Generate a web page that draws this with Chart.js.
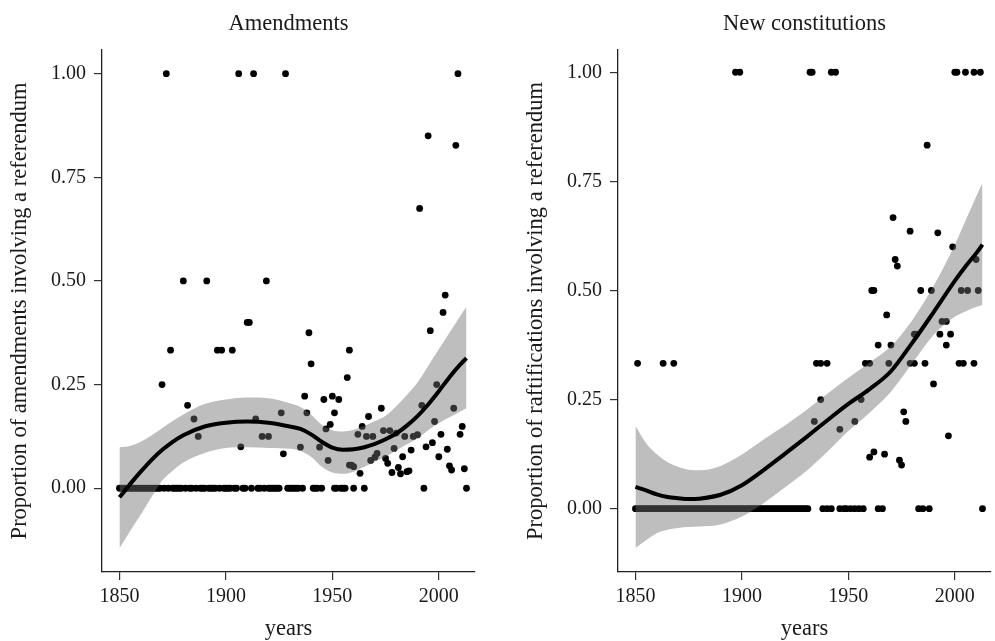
<!DOCTYPE html>
<html>
<head>
<meta charset="utf-8">
<script src="https://cdn.jsdelivr.net/npm/chart.js@4.4.1/dist/chart.umd.min.js"></script>
<style>
  body { margin: 0; background: #fff; overflow: hidden; }
  .panel { position: absolute; top: 0; }
</style>
</head>
<body>
<div class="panel" style="left:0px"><canvas id="amend" width="479" height="641"></canvas></div>
<div class="panel" style="left:516px"><canvas id="newconst" width="479" height="641"></canvas></div>
<script>
// ---- Amendments panel ----
const amendYears = [1870, 1872, 1874, 1880, 1882, 1885, 1887, 1891, 1896, 1898, 1903, 1906, 1907, 1910, 1911,
  1913, 1914, 1917, 1919, 1920, 1926, 1927, 1928,
  1935, 1937, 1938, 1939, 1940, 1944, 1946, 1947, 1948, 1949, 1950, 1951, 1953, 1957, 1958, 1958, 1959, 1960,
  1962, 1963, 1964, 1966, 1967, 1968, 1969, 1970, 1971, 1973, 1974, 1975, 1976, 1977, 1978, 1979, 1980, 1981,
  1982, 1983, 1984, 1985, 1986, 1987, 1988, 1990, 1991, 1992, 1994, 1995, 1996, 1997, 1998, 1999, 2000, 2001,
  2002, 2003, 2004, 2005, 2006, 2007, 2008, 2009, 2010, 2011, 2012];
const amendShares = [0.25, 1.00, 0.333, 0.50, 0.20, 0.167, 0.125, 0.50, 0.333, 0.333, 0.333, 1.00, 0.10, 0.40, 0.40,
  1.00, 0.167, 0.125, 0.50, 0.125, 0.182, 0.083, 1.00,
  0.099, 0.222, 0.182, 0.375, 0.30, 0.099, 0.214, 0.143, 0.067, 0.154, 0.222, 0.182, 0.214, 0.267, 0.333, 0.056, 0.056, 0.052,
  0.13, 0.036, 0.149, 0.125, 0.173, 0.067, 0.125, 0.075, 0.084, 0.193, 0.139, 0.072, 0.06, 0.139, 0.038, 0.096, 0.133, 0.05,
  0.035, 0.076, 0.125, 0.04, 0.042, 0.092, 0.125, 0.129, 0.675, 0.20, 0.10, 0.85, 0.38, 0.11, 0.161, 0.25, 0.076, 0.13,
  0.424, 0.466, 0.094, 0.054, 0.044, 0.193, 0.827, 1.00, 0.13, 0.149, 0.047];
const amendZeroYears = [1850, 1851, 1852, 1853, 1854, 1855, 1856, 1857, 1858, 1859, 1860, 1861, 1862, 1863, 1864,
  1865, 1866, 1867, 1868, 1869, 1871, 1873, 1875, 1876, 1877, 1878, 1879, 1881, 1883, 1884, 1886, 1888, 1889, 1890,
  1892, 1893, 1894, 1895, 1897, 1899, 1900, 1901, 1902, 1904, 1905, 1908, 1909, 1912, 1915, 1916, 1918, 1920, 1921,
  1922, 1923, 1924, 1925, 1929, 1930, 1931, 1932, 1933, 1934, 1936, 1941, 1942, 1943, 1945, 1951, 1952, 1954, 1955,
  1956, 1960, 1965, 1993, 2013];
const amendFitYears = [1850, 1855, 1860, 1865, 1870, 1875, 1880, 1890, 1900, 1910, 1920, 1930, 1935, 1940, 1945,
  1950, 1955, 1960, 1965, 1970, 1975, 1980, 1985, 1990, 1995, 2000, 2005, 2010, 2013];
const amendFit = [-0.022, 0.01, 0.04, 0.068, 0.092, 0.112, 0.128, 0.149, 0.158, 0.161, 0.158, 0.149, 0.143, 0.13, 0.112,
  0.098, 0.093, 0.094, 0.099, 0.107, 0.118, 0.132, 0.151, 0.174, 0.202, 0.234, 0.268, 0.298, 0.314];
const amendUpper = [0.099, 0.102, 0.112, 0.127, 0.145, 0.162, 0.178, 0.203, 0.214, 0.219, 0.217, 0.205, 0.196, 0.178, 0.153,
  0.14, 0.137, 0.141, 0.15, 0.162, 0.175, 0.198, 0.225, 0.255, 0.295, 0.335, 0.375, 0.415, 0.438];
const amendLower = [-0.145, -0.103, -0.064, -0.022, 0.018, 0.042, 0.062, 0.085, 0.097, 0.099, 0.097, 0.095, 0.09, 0.076, 0.052,
  0.038, 0.035, 0.04, 0.052, 0.064, 0.076, 0.091, 0.106, 0.12, 0.14, 0.157, 0.171, 0.185, 0.193];

// ---- New constitutions panel ----
const constYears = [1897, 1899, 1932, 1933, 1942, 1944, 2000, 2001, 2005, 2009, 2012,
  1987, 1971, 1979, 1992, 1999, 1972, 2010, 1973,
  1961, 1962, 1984, 1989, 2003, 2006, 2011,
  1968, 1994, 1996, 1981, 1982, 1993, 1998,
  1964, 1970, 1996,
  1851, 1863, 1868, 1935, 1937, 1940, 1958, 1960, 1969, 1979, 1981, 1986, 2002, 2004, 2009,
  1990, 1937, 1956, 1976, 1934, 1953, 1977, 1946, 1997, 1962, 1967, 1960, 1974, 1975];
const constShares = [1, 1, 1, 1, 1, 1, 1, 1, 1, 1, 1,
  0.833, 0.667, 0.636, 0.632, 0.60, 0.571, 0.571, 0.556,
  0.5, 0.5, 0.5, 0.5, 0.5, 0.5, 0.5,
  0.444, 0.429, 0.429, 0.40, 0.40, 0.40, 0.40,
  0.375, 0.375, 0.375,
  0.333, 0.333, 0.333, 0.333, 0.333, 0.333, 0.333, 0.333, 0.333, 0.333, 0.333, 0.333, 0.333, 0.333, 0.333,
  0.286, 0.25, 0.25, 0.222, 0.20, 0.20, 0.20, 0.182, 0.167, 0.13, 0.125, 0.118, 0.111, 0.10];
const constZeroYears = [1850, 1851, 1852, 1853, 1854, 1855, 1856, 1857, 1858, 1859, 1860, 1861, 1862, 1863, 1864,
  1865, 1866, 1867, 1868, 1869, 1870, 1871, 1872, 1873, 1874, 1875, 1876, 1877, 1878, 1879, 1880, 1881, 1882, 1883,
  1884, 1885, 1886, 1887, 1888, 1889, 1890, 1891, 1892, 1893, 1894, 1895, 1896, 1897, 1898, 1899, 1900, 1901, 1902,
  1903, 1904, 1905, 1906, 1907, 1908, 1909, 1910, 1911, 1912, 1913, 1914, 1915, 1916, 1917, 1918, 1919, 1920, 1921,
  1922, 1923, 1924, 1925, 1926, 1927, 1928, 1929, 1930, 1931, 1938, 1940, 1942, 1946, 1948, 1949, 1951, 1953, 1955,
  1957, 1964, 1966, 1983, 1985, 1988, 2013];
const constFitYears = [1850, 1855, 1860, 1865, 1870, 1875, 1880, 1890, 1900, 1910, 1920, 1930, 1940, 1950, 1960,
  1970, 1980, 1990, 2000, 2005, 2010, 2013];
const constFit = [0.05, 0.042, 0.033, 0.027, 0.024, 0.022, 0.023, 0.032, 0.054, 0.088, 0.125, 0.163, 0.202, 0.24, 0.274,
  0.315, 0.38, 0.45, 0.522, 0.555, 0.585, 0.605];
const constUpper = [0.19, 0.15, 0.125, 0.107, 0.096, 0.089, 0.088, 0.098, 0.124, 0.158, 0.19, 0.225, 0.263, 0.30, 0.335,
  0.372, 0.432, 0.51, 0.605, 0.66, 0.715, 0.746];
const constLower = [-0.09, -0.072, -0.056, -0.048, -0.044, -0.042, -0.041, -0.036, -0.018, 0.012, 0.048, 0.085, 0.13, 0.178, 0.22,
  0.268, 0.333, 0.398, 0.44, 0.452, 0.462, 0.467];

const tickYears = [1850, 1900, 1950, 2000];
const tickShares = [0, 0.25, 0.5, 0.75, 1];

const serif = "'Liberation Serif', 'Times New Roman', serif";
const ink = "#1a1a1a";

function pairs(xs, ys) {
  return xs.map(function (x, i) { return { x: x, y: ys[i] }; });
}

function makePanel(id, title, yTitle, years, shares, zeroYears, fitYears, fit, upper, lower, yMin, yMax) {
  var ctx = document.getElementById(id).getContext("2d");
  var points = pairs(years, shares).concat(zeroYears.map(function (x) { return { x: x, y: 0 }; }));
  return new Chart(ctx, {
    type: "line",
    data: {
      datasets: [
        {
          data: pairs(fitYears, fit),
          borderColor: "#000",
          borderWidth: 4,
          pointRadius: 0,
          cubicInterpolationMode: "monotone",
          fill: false,
        },
        {
          data: pairs(fitYears, upper),
          borderWidth: 0,
          borderColor: "rgba(0,0,0,0)",
          pointRadius: 0,
          cubicInterpolationMode: "monotone",
          backgroundColor: "rgba(110,110,110,0.45)",
          fill: "+1",
        },
        {
          data: pairs(fitYears, lower),
          borderWidth: 0,
          borderColor: "rgba(0,0,0,0)",
          pointRadius: 0,
          cubicInterpolationMode: "monotone",
          fill: false,
        },
        {
          data: points,
          showLine: false,
          pointRadius: 3.4,
          pointBorderWidth: 0,
          pointBackgroundColor: "#000",
          fill: false,
        },
      ],
    },
    options: {
      responsive: false,
      devicePixelRatio: 1,
      animation: false,
      layout: { padding: 0 },
      plugins: {
        legend: { display: false },
        tooltip: { enabled: false },
        title: {
          display: true,
          text: title,
          fullSize: false,
          color: ink,
          font: { family: serif, size: 22.5, weight: "normal" },
          padding: { top: 11, bottom: 12 },
        },
      },
      scales: {
        x: {
          type: "linear",
          min: 1841.8,
          max: 2017,
          afterBuildTicks: function (axis) {
            axis.ticks = tickYears.map(function (v) { return { value: v }; });
          },
          afterFit: function (axis) {
            axis.height = 69;
            axis.paddingLeft = 0;
            axis.paddingRight = 0;
          },
          grid: { drawOnChartArea: false, drawTicks: true, tickLength: 8, color: "#333", lineWidth: 1.2 },
          border: { display: true, color: "#222", width: 1.3 },
          ticks: {
            color: ink,
            padding: 5,
            font: { family: serif, size: 20 },
            callback: function (v) { return String(v); },
          },
          title: {
            display: true,
            text: "years",
            color: ink,
            font: { family: serif, size: 22.5 },
            padding: { top: 0, bottom: -2 },
          },
        },
        y: {
          type: "linear",
          min: yMin,
          max: yMax,
          afterBuildTicks: function (axis) {
            axis.ticks = tickShares.map(function (v) { return { value: v }; });
          },
          afterFit: function (axis) {
            axis.width = 102;
            axis.paddingTop = 0;
            axis.paddingBottom = 0;
          },
          grid: { drawOnChartArea: false, drawTicks: true, tickLength: 8, color: "#333", lineWidth: 1.2 },
          border: { display: true, color: "#222", width: 1.3 },
          ticks: {
            color: ink,
            padding: 8,
            font: { family: serif, size: 20 },
            callback: function (v) { return Number(v).toFixed(2); },
          },
          title: {
            display: true,
            text: yTitle,
            color: ink,
            font: { family: serif, size: 22.5 },
            padding: { top: 6.5, bottom: 0 },
          },
        },
      },
    },
  });
}

makePanel("amend", "Amendments", "Proportion of amendments involving a referendum",
  amendYears, amendShares, amendZeroYears, amendFitYears, amendFit, amendUpper, amendLower, -0.202, 1.057);
makePanel("newconst", "New constitutions", "Proportion of raftifications involving a referendum",
  constYears, constShares, constZeroYears, constFitYears, constFit, constUpper, constLower, -0.145, 1.051);
</script>
</body>
</html>
